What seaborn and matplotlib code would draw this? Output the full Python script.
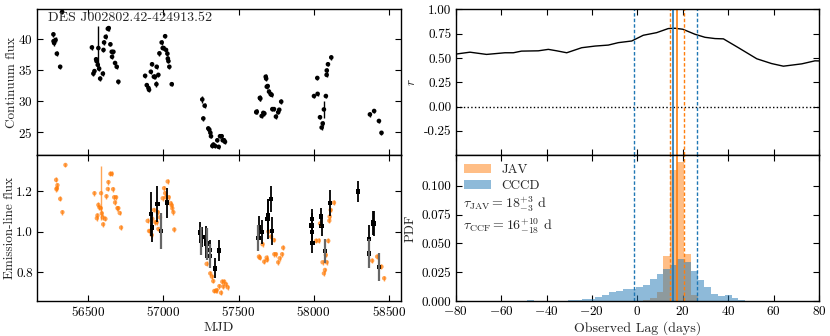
import numpy as np
import pandas as pd
import seaborn as sns
import matplotlib
matplotlib.use('Agg')
import matplotlib.pyplot as plt
from matplotlib.patches import Patch
from matplotlib.ticker import FormatStrFormatter, MultipleLocator

# ---- continuum light curve (MJD, flux, error)
cont_mjd = [56269, 56270, 56274, 56283, 56292, 56314, 56327,
            56525, 56535, 56542, 56553, 56556, 56564, 56568, 56573, 56580, 56598, 56602,
            56606, 56617, 56631, 56637, 56648, 56657, 56659, 56668, 56679, 56690, 56701,
            56879, 56890, 56901, 56905, 56917, 56925, 56937, 56945, 56954, 56956, 56967,
            56974, 56989, 56996, 57002, 57012, 57018, 57027, 57030, 57034, 57040, 57056,
            57259, 57266, 57275, 57299, 57306, 57313, 57317, 57326, 57333, 57344, 57359,
            57368, 57377, 57388, 57395, 57404, 57410,
            57618, 57621, 57642, 57645, 57654, 57665, 57672, 57681, 57684, 57688, 57694,
            57703, 57714, 57720, 57725, 57736, 57749, 57764, 57771, 57784,
            58002, 58024, 58026, 58042, 58053, 58060, 58068, 58081, 58086, 58087, 58095, 58117,
            58374, 58402, 58434, 58451]
cont_flux = [40.7, 39.6, 39.3, 39.8, 37.6, 35.5, 44.3,
             38.6, 34.4, 34.8, 36.7, 36.4, 35.8, 38.5, 35.2, 33.6, 34.4, 38.2,
             39.4, 40.3, 41.6, 41.7, 39.1, 37.9, 37.1, 37.9, 36.1, 35.5, 33.1,
             34.05, 32.55, 32.1, 31.8, 34.7, 35.9, 33.9, 33.9, 32.7, 35.5, 34.2,
             37.65, 39.4, 38.5, 38.5, 40.4, 38.2, 37.6, 36.8, 36.4, 35.5, 32.7,
             30.25, 27.2, 29.25, 25.6, 25.4, 24.9, 24.35, 22.8, 23.0, 22.8, 23.7,
             22.65, 24.35, 24.35, 23.7, 23.7, 23.45,
             28.2, 28.3, 30.5, 30.4, 27.6, 28.1, 28.0, 33.9, 33.6, 32.3, 32.4,
             31.5, 31.1, 31.0, 28.7, 28.7, 27.5, 28.2, 28.6, 29.9,
             30.8, 33.7, 31.15, 27.4, 25.75, 26.4, 28.65, 30.8, 34.2, 34.9, 35.9, 37.0,
             27.85, 28.4, 26.8, 24.9]
cont_err = [0.4, 0.4, 0.4, 0.4, 0.4, 0.35, 0.4,
            0.35, 0.4, 0.35, 0.4, 0.35, 0.4, 3.6, 0.35, 0.35, 0.4, 0.35,
            0.35, 0.4, 0.35, 0.4, 0.35, 0.35, 0.35, 0.35, 0.35, 0.35, 0.35,
            0.35, 0.35, 0.35, 0.4, 0.35, 0.35, 0.4, 0.35, 0.45, 0.35, 0.35,
            0.35, 0.35, 0.35, 0.35, 0.35, 0.35, 0.35, 0.35, 0.35, 0.35, 0.35,
            0.5, 0.35, 0.45, 0.35, 0.35, 0.35, 0.35, 0.35, 0.35, 0.35, 0.35,
            0.35, 0.35, 0.35, 0.35, 0.35, 0.35,
            0.35, 0.35, 0.45, 0.35, 0.35, 0.35, 0.35, 0.45, 0.35, 0.35, 0.35,
            0.35, 0.35, 0.35, 0.35, 0.35, 0.35, 0.35, 0.35, 0.45,
            0.35, 0.35, 0.35, 0.35, 0.35, 0.35, 1.35, 0.35, 0.35, 0.35, 0.35, 0.35,
            0.35, 0.35, 0.35, 0.35]

# ---- emission-line light curve, photometric-scaled points (orange)
line_mjd = [56287, 56292, 56296, 56289, 56314, 56329, 56349,
            56542, 56558, 56562, 56568, 56575, 56584, 56586, 56591, 56597, 56600, 56615,
            56622, 56631, 56635, 56648, 56657, 56666, 56673, 56686, 56679, 56695, 56701,
            56710, 56719,
            56896, 56905, 56914, 56923, 56927, 56938, 56947, 56956, 56963, 56967, 56978,
            56996, 57005, 57012, 57018, 57029, 57036, 57049, 57056, 57060, 57067, 57073,
            57288, 57312, 57323, 57332, 57339, 57349, 57355, 57373, 57384, 57392, 57399,
            57405, 57417, 57428,
            57636, 57642, 57660, 57671, 57687, 57690, 57699, 57717, 57736, 57738, 57749,
            57764, 57774, 57790, 57797,
            58015, 58034, 58042, 58059, 58068, 58075, 58081, 58086, 58097, 58104, 58106,
            58113, 58135,
            58389, 58422, 58451, 58469]
line_flux = [1.256, 1.215, 1.23, 1.21, 1.162, 1.096, 1.33,
             1.19, 1.066, 1.08, 1.132, 1.12, 1.116, 1.19, 1.09, 1.07, 1.036, 1.063,
             1.175, 1.211, 1.245, 1.286, 1.286, 1.21, 1.17, 1.17, 1.144, 1.116, 1.116,
             1.092, 1.02,
             1.053, 1.003, 1.003, 0.983, 1.063, 1.107, 1.046, 1.046, 1.096, 1.013, 1.07,
             1.165, 1.215, 1.19, 1.17, 1.248, 1.17, 1.14, 1.13, 1.115, 1.096, 1.01,
             0.84, 0.793, 0.777, 0.755, 0.706, 0.706, 0.71, 0.73, 0.697, 0.752, 0.728,
             0.752, 0.739, 0.724,
             0.876, 0.87, 0.937, 0.851, 0.871, 0.86, 1.0, 0.975, 0.958, 0.888, 0.888,
             0.848, 0.868, 0.888, 0.92,
             0.954, 0.955, 1.04, 0.848, 0.793, 0.81, 0.884, 0.848, 0.954, 1.054, 1.074,
             1.107, 1.143,
             0.856, 0.876, 0.826, 0.769]
line_err = [0.012] * 13 + [0.135] + [0.012] * (len(line_mjd) - 14)

# ---- emission-line spectroscopic points (black)
spec_mjd = [56918, 56923, 56960, 56983, 57023,
            57247, 57250, 57260, 57285, 57288, 57310, 57312, 57344, 57371,
            57633, 57636, 57658, 57694, 57697, 57716, 57722,
            57986, 57988, 57990, 57992, 58048, 58053, 58077, 58108,
            58296, 58367, 58369, 58396, 58399, 58434]
spec_flux = [1.086, 1.02, 1.137, 1.003, 1.143,
             0.995, 0.953, 0.972, 0.95, 0.94, 0.909, 0.88, 0.818, 0.906,
             0.967, 1.02, 0.997, 1.061, 1.083, 1.162, 1.003,
             1.03, 0.998, 1.061, 0.942, 1.074, 1.028, 0.904, 1.14,
             1.198, 0.962, 0.891, 1.044, 1.04, 0.825]
spec_err = [0.11, 0.07, 0.09, 0.09, 0.075,
            0.05, 0.07, 0.05, 0.08, 0.08, 0.05, 0.06, 0.05, 0.05,
            0.065, 0.055, 0.06, 0.1, 0.08, 0.065, 0.07,
            0.06, 0.05, 0.05, 0.05, 0.045, 0.05, 0.06, 0.065,
            0.05, 0.07, 0.07, 0.06, 0.06, 0.07]
spec_grey = [0, 0, 0, 1, 0,
             0, 1, 0, 0, 1, 0, 1, 0, 0,
             1, 0, 0, 0, 0, 0, 0,
             0, 0, 0, 0, 0, 0, 1, 0,
             0, 0, 1, 0, 0, 1]

# ---- cross-correlation function
ccf_lag = [-80, -78.8, -73.7, -66.4, -58.3, -54.6, -51, -43.6, -39.2, -35.5, -31.1, -24.5,
           -18.6, -12.8, -8.4, -2.5, 2.6, 8.5, 13.6, 16.6, 20, 25.4, 29.8, 34.2, 37.9,
           44.5, 52.6, 59.1, 64.3, 72.4, 78.2, 80]
ccf_r = [0.54, 0.544, 0.56, 0.537, 0.554, 0.554, 0.571, 0.574, 0.589, 0.574, 0.554, 0.606,
         0.623, 0.633, 0.658, 0.675, 0.734, 0.761, 0.803, 0.806, 0.796, 0.744, 0.713, 0.70,
         0.697, 0.606, 0.492, 0.443, 0.416, 0.44, 0.471, 0.47]

# ---- lag posteriors (bin centres, pdf)
lag_edges = [float(e) for e in np.arange(-48.5, 83.6, 3.0)]
cccd_lag = [-47, -44, -41, -38, -35, -32, -29, -26, -23, -20, -17, -14, -11, -8, -5, -2,
            1, 4, 7, 10, 13, 16, 19, 22, 25, 28, 31, 34, 37, 40, 43, 46]
cccd_pdf = [0.0005, 0.0, 0.0, 0.0002, 0.0004, 0.0004, 0.0005, 0.001, 0.0015, 0.002,
            0.0036, 0.005, 0.0075, 0.0087, 0.0105, 0.0105, 0.012, 0.0137, 0.019, 0.0233,
            0.028, 0.0317, 0.0366, 0.034, 0.026, 0.0186, 0.0125, 0.0058, 0.0045, 0.005,
            0.003, 0.0012]
jav_lag = [4, 7, 10, 13, 16, 19, 22, 25, 81]
jav_pdf = [0.001, 0.003, 0.008, 0.0387, 0.114, 0.1206, 0.041, 0.005, 0.0008]

jav_med, jav_lo, jav_hi = 17.5, 14.5, 20.4
ccf_med, ccf_lo, ccf_hi = 15.9, -1.6, 26.4

sns.set_style('ticks')
plt.rcParams['font.family'] = ['cmr10', 'DejaVu Serif']
plt.rcParams['mathtext.fontset'] = 'cm'
plt.rcParams['axes.formatter.use_mathtext'] = True
plt.rcParams['axes.unicode_minus'] = True
plt.rcParams['font.size'] = 9.5
plt.rcParams['axes.edgecolor'] = 'black'
plt.rcParams['xtick.color'] = 'black'
plt.rcParams['ytick.color'] = 'black'

fig = plt.figure(figsize=(8.3, 3.36), dpi=100)
ax1 = fig.add_axes([0.0446, 0.538, 0.4384, 0.434])
ax2 = fig.add_axes([0.0446, 0.104, 0.4384, 0.434], sharex=ax1)
ax3 = fig.add_axes([0.549, 0.538, 0.4378, 0.434])
ax4 = fig.add_axes([0.549, 0.104, 0.4378, 0.434], sharex=ax3)

for ax in (ax1, ax2, ax3, ax4):
    ax.tick_params(labelsize=9.5, length=4, width=0.8, direction='in',
                   top=True, right=True, pad=3)
    for sp in ax.spines.values():
        sp.set_linewidth(1.0)

# continuum
ax1.errorbar(cont_mjd, cont_flux, yerr=cont_err, fmt='none', ecolor='black', elinewidth=1)
sns.scatterplot(x=cont_mjd, y=cont_flux, color='black', s=11, edgecolor='none', ax=ax1)
ax1.set_ylim(21.3, 44.7)
ax1.set_yticks([25, 30, 35, 40])
ax1.set_ylabel('Continuum flux', fontsize=9.5)
ax1.yaxis.set_label_coords(-0.052, 0.5)
ax1.tick_params(labelbottom=False)
ax1.text(0.03, 0.94, 'DES J002802.42-424913.52', transform=ax1.transAxes,
         ha='left', va='center', fontsize=10)

# emission line
ax2.errorbar(line_mjd, line_flux, yerr=line_err, fmt='none', ecolor='C1', alpha=0.7,
             elinewidth=1)
sns.scatterplot(x=line_mjd, y=line_flux, color='C1', alpha=0.7, s=10, edgecolor='none',
                ax=ax2)
spec = pd.DataFrame({'mjd': spec_mjd, 'flux': spec_flux, 'err': spec_err,
                     'grey': spec_grey})
blk = spec[spec['grey'] == 0]
gry = spec[spec['grey'] == 1]
ax2.errorbar(blk['mjd'], blk['flux'], yerr=blk['err'], fmt='none', ecolor='black',
             elinewidth=1.3)
ax2.errorbar(gry['mjd'], gry['flux'], yerr=gry['err'], fmt='none', ecolor='0.4',
             elinewidth=1.6)
sns.scatterplot(x=spec_mjd, y=spec_flux, color='black', s=10, marker='s',
                edgecolor='none', ax=ax2)
ax2.set_xlim(56160, 58580)
ax2.set_ylim(0.656, 1.378)
ax2.xaxis.set_major_locator(MultipleLocator(500))
ax2.set_yticks([0.8, 1.0, 1.2])
ax2.yaxis.set_major_formatter(FormatStrFormatter('%.1f'))
ax2.set_xlabel('MJD', fontsize=10, labelpad=2)
ax2.set_ylabel('Emission-line flux', fontsize=9.5)
ax2.yaxis.set_label_coords(-0.058, 0.5)

# CCF
sns.lineplot(x=ccf_lag, y=ccf_r, color='black', lw=1, ax=ax3)
ax3.axhline(0, color='black', ls=':', lw=1)
ax3.set_ylim(-0.5, 1.0)
ax3.set_yticks([-0.25, 0.0, 0.25, 0.5, 0.75, 1.0])
ax3.yaxis.set_major_formatter(FormatStrFormatter('%.2f'))
ax3.set_ylabel('$r$', fontsize=9.5)
ax3.tick_params(labelbottom=False)

# lag posteriors
jav = pd.DataFrame({'lag': jav_lag, 'pdf': jav_pdf})
cccd = pd.DataFrame({'lag': cccd_lag, 'pdf': cccd_pdf})
sns.histplot(data=jav, x='lag', weights='pdf', bins=lag_edges, color='C1', alpha=0.5,
             linewidth=0, ax=ax4)
sns.histplot(data=cccd, x='lag', weights='pdf', bins=lag_edges, color='C0', alpha=0.5,
             linewidth=0, ax=ax4)
ax4.set_xlim(-80, 80)
ax4.set_ylim(0, 0.1265)
ax4.xaxis.set_major_locator(MultipleLocator(20))
ax4.set_yticks([0.0, 0.025, 0.05, 0.075, 0.1])
ax4.yaxis.set_major_formatter(FormatStrFormatter('%.3f'))
ax4.set_xlabel('Observed Lag (days)', fontsize=10, labelpad=2)
ax4.set_ylabel('PDF', fontsize=9.5)
handles = [Patch(color='C1', alpha=0.5, lw=0), Patch(color='C0', alpha=0.5, lw=0)]
ax4.legend(handles, ['JAV', 'CCCD'], loc='upper left', frameon=False, fontsize=9.5,
           handlelength=2.0, borderaxespad=0.25, labelspacing=0.3)
ax4.text(0.02, 0.66, r'$\tau_{\rm JAV} = 18^{+3}_{-3}$ d', transform=ax4.transAxes,
         ha='left', va='center', fontsize=10)
ax4.text(0.02, 0.515, r'$\tau_{\rm CCF} = 16^{+10}_{-18}$ d', transform=ax4.transAxes,
         ha='left', va='center', fontsize=10)

for ax in (ax3, ax4):
    ax.axvline(ccf_med, color='C0', lw=1.2)
    ax.axvline(ccf_lo, color='C0', ls='--', lw=1, dashes=(2.5, 1.5))
    ax.axvline(ccf_hi, color='C0', ls='--', lw=1, dashes=(2.5, 1.5))
    ax.axvline(jav_med, color='C1', lw=1.2)
    ax.axvline(jav_lo, color='C1', ls='--', lw=1, dashes=(2.5, 1.5))
    ax.axvline(jav_hi, color='C1', ls='--', lw=1, dashes=(2.5, 1.5))

fig.savefig('out.png', dpi=100)
